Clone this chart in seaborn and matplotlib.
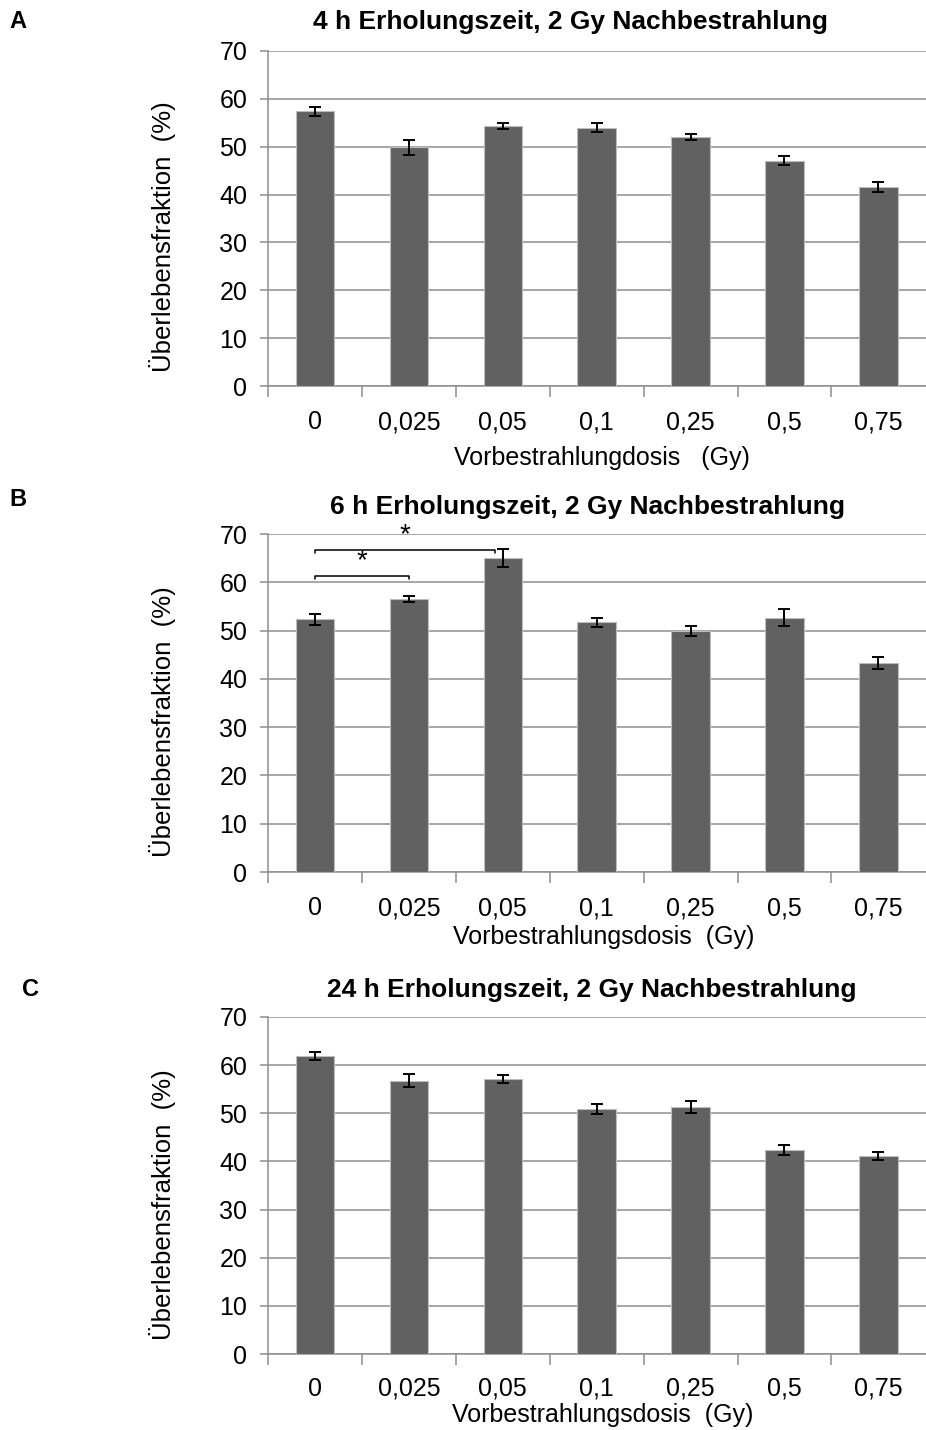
import matplotlib
matplotlib.use("Agg")
import matplotlib.pyplot as plt
import seaborn as sns
import numpy as np
import pandas as pd

# ---------------- data ----------------
doses = ["0", "0,025", "0,05", "0,1", "0,25", "0,5", "0,75"]

vals_a = [57.4, 49.9, 54.4, 54.0, 52.0, 47.1, 41.6]
err_a = [1.0, 1.6, 0.6, 0.9, 0.6, 1.0, 1.1]

vals_b = [52.3, 56.5, 65.0, 51.7, 50.0, 52.7, 43.3]
err_b = [1.1, 0.6, 1.8, 0.9, 1.05, 1.8, 1.2]

vals_c = [61.9, 56.8, 57.1, 50.8, 51.4, 42.4, 41.2]
err_c = [0.9, 1.4, 0.9, 1.05, 1.25, 1.0, 0.8]

titles = ["4 h Erholungszeit, 2 Gy Nachbestrahlung",
          "6 h Erholungszeit, 2 Gy Nachbestrahlung",
          "24 h Erholungszeit, 2 Gy Nachbestrahlung"]
xlabels = ["Vorbestrahlungdosis   (Gy)",
           "Vorbestrahlungsdosis  (Gy)",
           "Vorbestrahlungsdosis  (Gy)"]
ylabel = "Überlebensfraktion  (%)"
panel_letters = ["A", "B", "C"]
yticks = [0, 10, 20, 30, 40, 50, 60, 70]

# significance brackets in panel B: (start, end, height)
sig_b = [(0, 1, 61.3), (0, 1.92, 66.7)]

# ---------------- style ----------------
sns.set_theme(style="white")
plt.rcParams['font.family'] = ['Liberation Sans', 'DejaVu Sans']
plt.rcParams['text.color'] = 'black'

W, H = 926, 1430
fig = plt.figure(figsize=(W / 100, H / 100), dpi=100)

GRID = "#8e8e8e"
BAR = "#616161"
FS = 18

# axes boxes in pixels: (left, top, right, bottom)
boxes = [(268, 51, 930, 386), (268, 534, 930, 872), (268, 1017, 930, 1354)]
title_pos = [(570, 22), (588, 507), (592, 990)]
letter_pos = [(18, 22), (18, 500), (30, 990)]
xlabel_pos = [(602, 458), (604, 937), (603, 1415)]
ylabel_pos = [(162, 237), (162, 722), (162, 1205)]
tick_pad = [17.5, 17.5, 16.5]

datasets = [(vals_a, err_a), (vals_b, err_b), (vals_c, err_c)]

for i, ((vals, errs), box) in enumerate(zip(datasets, boxes)):
    l, t, r, b = box
    ax = fig.add_axes([l / W, 1 - b / H, (r - l) / W, (b - t) / H])
    df = pd.DataFrame({"dose": doses, "val": vals})
    sns.barplot(data=df, x="dose", y="val", color=BAR, width=0.41,
                edgecolor="#bdbdbd", linewidth=0.8, saturation=1, ax=ax, zorder=3)
    xs = np.arange(len(doses))
    ax.errorbar(xs, vals, yerr=errs, fmt="none", ecolor="black",
                elinewidth=1.4, capsize=4, capthick=1.4, zorder=4)
    ax.set_ylim(0, 70)
    ax.set_xlim(-0.5, len(doses) - 0.5 + 0.05)
    ax.set_yticks(yticks)
    ax.set_yticklabels([str(v) for v in yticks], fontsize=FS)
    ax.yaxis.grid(True, color=GRID, linewidth=1.1, zorder=0)
    ax.set_axisbelow(True)
    for side in ["top", "right"]:
        ax.spines[side].set_visible(False)
    for side in ["left", "bottom"]:
        ax.spines[side].set_visible(True)
        ax.spines[side].set_color(GRID)
        ax.spines[side].set_linewidth(1.1)
    ax.tick_params(axis="y", which="major", left=True, length=6, width=1.1,
                   color=GRID, labelcolor="black", pad=9)
    ax.set_xticks(xs)
    ax.set_xticklabels(doses, fontsize=FS)
    ax.tick_params(axis="x", which="major", bottom=False, length=0,
                   labelcolor="black", pad=tick_pad[i])
    ax.set_xticks(np.arange(-0.5, len(doses) - 0.5, 1.0), minor=True)
    ax.tick_params(axis="x", which="minor", bottom=True, length=8, width=1.1,
                   color=GRID, direction="out")
    ax.set_xlabel("")
    ax.set_ylabel("")

    fig.text(ylabel_pos[i][0] / W, 1 - ylabel_pos[i][1] / H, ylabel,
             ha="center", va="center", rotation=90, fontsize=FS + 0.5)
    fig.text(title_pos[i][0] / W, 1 - title_pos[i][1] / H, titles[i],
             ha="center", va="center", fontsize=19, fontweight="bold")
    fig.text(letter_pos[i][0] / W, 1 - letter_pos[i][1] / H, panel_letters[i],
             ha="center", va="center", fontsize=17, fontweight="bold")
    fig.text(xlabel_pos[i][0] / W, 1 - xlabel_pos[i][1] / H, xlabels[i],
             ha="center", va="center", fontsize=FS)

    if i == 1:
        for x0, x1, yb in sig_b:
            ax.plot([x0, x0, x1, x1], [yb - 0.7, yb, yb, yb - 0.7],
                    color="black", linewidth=1.1, zorder=5, clip_on=False)
            ax.text((x0 + x1) / 2, yb + 0.4, "*", ha="center", va="bottom",
                    fontsize=FS + 2)

fig.savefig("out.png", dpi=100)
